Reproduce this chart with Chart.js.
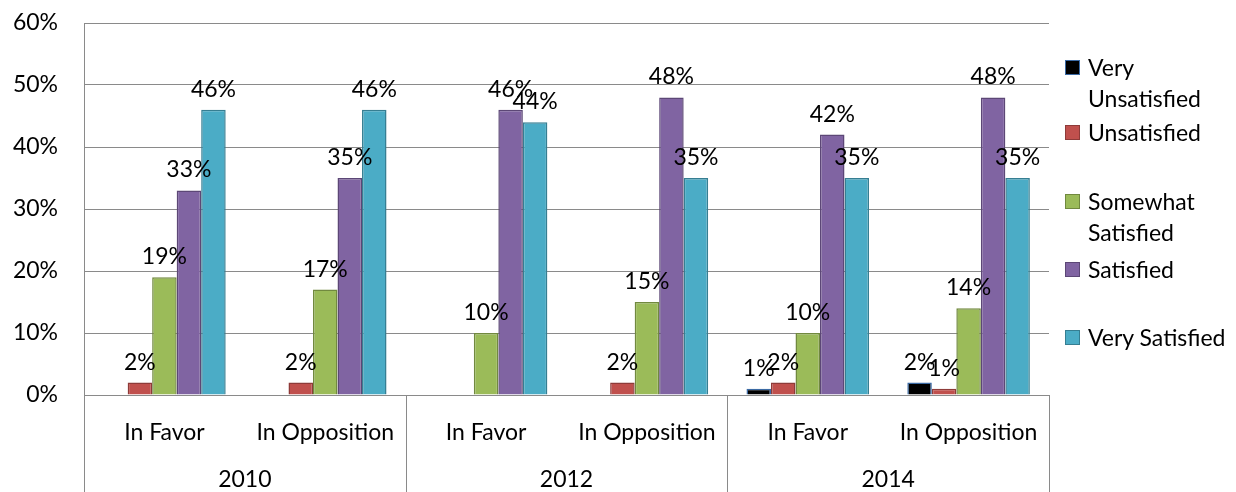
<!DOCTYPE html>
<html>
<head>
<meta charset="utf-8">
<script src="https://cdn.jsdelivr.net/npm/chart.js@4/dist/chart.umd.min.js"></script>
<style>
    body { margin: 0; background: #fff; font-family: Lato, sans-serif; }
    .wrap { position: relative; width: 1236px; height: 492px; }
    .legend { position: absolute; left: 1065px; top: 0; font-size: 23px; line-height: 31px; color: #000; }
    .legend-item { position: absolute; left: 0; white-space: nowrap; }
    .legend-box { position: absolute; left: 0; top: 8px; width: 13px; height: 13px; border: 1.5px solid; }
    .legend-text { margin-left: 23px; }
</style>
</head>
<body>
<div class="wrap">
    <canvas id="chart"></canvas>
    <div class="legend" id="legend"></div>
</div>
<script>
// Data
const SUBGROUPS = ['In Favor', 'In Opposition', 'In Favor', 'In Opposition', 'In Favor', 'In Opposition'];
const YEARS = ['2010', '2012', '2014'];
const SERIES = ['Very Unsatisfied', 'Unsatisfied', 'Somewhat Satisfied', 'Satisfied', 'Very Satisfied'];

const VERY_UNSATISFIED = [0, 0, 0, 0, 1, 2];
const UNSATISFIED = [2, 2, 0, 2, 2, 1];
const SOMEWHAT_SATISFIED = [19, 17, 10, 15, 10, 14];
const SATISFIED = [33, 35, 46, 48, 42, 48];
const VERY_SATISFIED = [46, 46, 44, 35, 35, 35];

const Y_TICKS = [0, 10, 20, 30, 40, 50, 60];

// Styles
const FILLS = ['#000000', '#C0504D', '#9BBB59', '#8064A2', '#4BACC6'];
const BORDERS = ['#3B6AA4', '#8E3B39', '#71893F', '#5C4776', '#367E92'];
const LEGEND_LINES = [['Very', 'Unsatisfied'], ['Unsatisfied'], ['Somewhat', 'Satisfied'], ['Satisfied'], ['Very Satisfied']];
const LEGEND_TOPS = [52, 117, 186, 254, 322];
const GRID = '#8a8a8a';
const FONT = { family: 'Lato, sans-serif', size: 23 };

const values = [VERY_UNSATISFIED, UNSATISFIED, SOMEWHAT_SATISFIED, SATISFIED, VERY_SATISFIED];

// value labels above each bar
const barLabels = {
    id: 'barLabels',
    afterDatasetsDraw(chart) {
        const ctx = chart.ctx;
        ctx.save();
        ctx.font = '23px Lato, sans-serif';
        ctx.fillStyle = '#000';
        ctx.textAlign = 'center';
        ctx.textBaseline = 'alphabetic';
        chart.data.datasets.forEach((ds, i) => {
            chart.getDatasetMeta(i).data.forEach((bar, j) => {
                const v = ds.data[j];
                if (!v) return;
                ctx.fillText(v + '%', bar.x, bar.y - 13);
            });
        });
        ctx.restore();
    }
};

// year row and group separators under the axis
const yearRow = {
    id: 'yearRow',
    afterDraw(chart) {
        const ctx = chart.ctx;
        const area = chart.chartArea;
        const step = (area.right - area.left) / YEARS.length;
        ctx.save();
        ctx.strokeStyle = GRID;
        ctx.lineWidth = 1;
        for (let g = 0; g <= YEARS.length; g++) {
            const x = Math.round(area.left + g * step) + 0.5;
            ctx.beginPath();
            ctx.moveTo(x, area.bottom);
            ctx.lineTo(x, chart.height);
            ctx.stroke();
        }
        ctx.font = '23px Lato, sans-serif';
        ctx.fillStyle = '#000';
        ctx.textAlign = 'center';
        ctx.textBaseline = 'middle';
        YEARS.forEach((y, g) => ctx.fillText(y, area.left + (g + 0.5) * step, 480));
        ctx.restore();
    }
};

new Chart(document.getElementById('chart'), {
    type: 'bar',
    data: {
        labels: SUBGROUPS,
        datasets: SERIES.map((name, i) => ({
            label: name,
            data: values[i],
            backgroundColor: FILLS[i],
            borderColor: BORDERS[i],
            borderWidth: 1.5,
            categoryPercentage: 0.762,
            barPercentage: 1,
        }))
    },
    options: {
        responsive: true,
        maintainAspectRatio: false,
        animation: false,
        layout: { padding: { top: 23, right: 187, left: 0, bottom: 0 } },
        plugins: { legend: { display: false }, tooltip: { enabled: false } },
        scales: {
            x: {
                grid: { display: false },
                border: { display: true, color: GRID },
                ticks: { font: FONT, color: '#000', padding: 16, maxRotation: 0 },
                afterFit(scale) {
                    scale.height = 97;
                    scale.paddingLeft = 0;
                    scale.paddingRight = 0;
                },
            },
            y: {
                min: 0,
                max: 60,
                afterBuildTicks(scale) { scale.ticks = Y_TICKS.map(v => ({ value: v })); },
                grid: { color: GRID, drawTicks: false },
                border: { display: true, color: GRID },
                ticks: { font: FONT, color: '#000', padding: 26, callback: v => v + '%' },
                afterFit(scale) {
                    scale.width = 84;
                    scale.paddingTop = 0;
                    scale.paddingBottom = 0;
                },
            }
        }
    },
    plugins: [barLabels, yearRow]
});

// legend
document.getElementById('legend').innerHTML = SERIES.map((name, i) => `
    <div class="legend-item" style="top:${LEGEND_TOPS[i]}px">
        <span class="legend-box" style="background:${FILLS[i]};border-color:${BORDERS[i]}"></span>
        <div class="legend-text">${LEGEND_LINES[i].join('<br>')}</div>
    </div>
`).join('');
</script>
</body>
</html>
